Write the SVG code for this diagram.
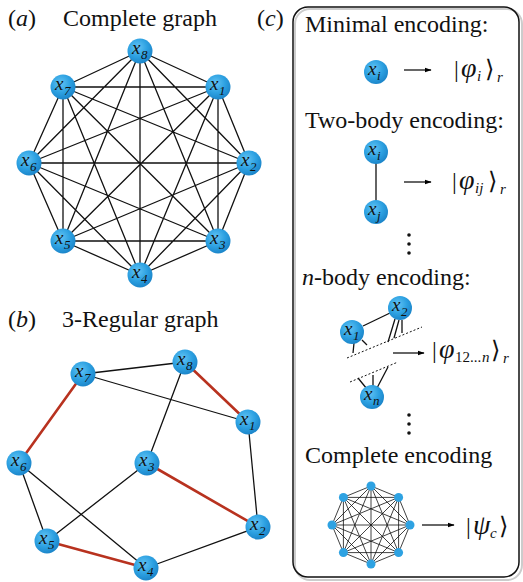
<svg xmlns="http://www.w3.org/2000/svg" width="523" height="582" viewBox="0 0 523 582">
<defs>
<radialGradient id="ball" cx="40%" cy="35%" r="65%">
<stop offset="0" stop-color="#62c4f4"/>
<stop offset="0.6" stop-color="#2ca0e1"/>
<stop offset="1" stop-color="#1c86ca"/>
</radialGradient>
<marker id="ah" viewBox="0 0 10 10" refX="9" refY="5" markerWidth="7" markerHeight="7" markerUnits="userSpaceOnUse" orient="auto">
<path d="M0,1.5 L10,5 L0,8.5 Z" fill="#000"/>
</marker>
</defs>
<style>
text{font-family:"Liberation Serif","Times New Roman",serif;fill:#111}
.t{font-size:24px}
.i{font-style:italic}
.nl{font-size:19px;font-style:italic}
.ns{font-size:13px;font-style:italic}
.k{font-size:24px}
.kp{font-size:28px;font-style:italic}
.ks{font-size:15px;font-style:italic}
.e{stroke:#111;stroke-width:1.3;fill:none}
.r{stroke:#b8321f;stroke-width:2.6;fill:none}
.n{fill:url(#ball)}
.sn{fill:#2ea2e2}
.arr{stroke:#000;stroke-width:1.2;marker-end:url(#ah)}
.d{stroke:#111;stroke-width:1;stroke-dasharray:2 2;fill:none}
</style>

<!-- titles -->
<text class="t" x="8" y="26">(<tspan class="i">a</tspan>)</text>
<text class="t" x="63" y="26">Complete graph</text>
<text class="t" x="257" y="26">(<tspan class="i">c</tspan>)</text>
<text class="t" x="8" y="327">(<tspan class="i">b</tspan>)</text>
<text class="t" x="62" y="327">3-Regular graph</text>

<!-- connectors -->
<g id="connectors">
<path class="e" d="M218 87L249 163 M218 87L218 241 M218 87L140 275 M218 87L63 241 M218 87L29 163 M218 87L63 87 M218 87L140 51
M249 163L218 241 M249 163L140 275 M249 163L63 241 M249 163L29 163 M249 163L63 87 M249 163L140 51
M218 241L140 275 M218 241L63 241 M218 241L29 163 M218 241L63 87 M218 241L140 51
M140 275L63 241 M140 275L29 163 M140 275L63 87 M140 275L140 51
M63 241L29 163 M63 241L63 87 M63 241L140 51
M29 163L63 87 M29 163L140 51
M63 87L140 51"/>
<path class="e" d="M83 374L185 362 M83 374L248 422 M185 362L147 463 M248 422L258 527 M147 463L47 541 M19 463L47 541 M19 463L146 568 M146 568L258 527"/>
<path class="r" d="M185 362L248 422 M83 374L19 463 M147 463L258 527 M47 541L146 568"/>
<line class="e" x1="376" y1="160" x2="376" y2="205"/>
<path class="e" d="M363 326L390 313 M354 343L353 353 M362 340L367 345 M395 319L388 342 M399 320L394 338 M402 320L402 333 M358 378L367 389 M373 375L373 387 M388 367L377 388"/>
<path class="d" d="M347 358L422 327 M350 382L398 362"/>
<path class="e" style="stroke-width:0.8" d="M371 486L398.6 497.4 M371 486L410 525 M371 486L398.6 552.6 M371 486L371 564 M371 486L343.4 552.6 M371 486L332 525 M371 486L343.4 497.4
M398.6 497.4L410 525 M398.6 497.4L398.6 552.6 M398.6 497.4L371 564 M398.6 497.4L343.4 552.6 M398.6 497.4L332 525 M398.6 497.4L343.4 497.4
M410 525L398.6 552.6 M410 525L371 564 M410 525L343.4 552.6 M410 525L332 525 M410 525L343.4 497.4
M398.6 552.6L371 564 M398.6 552.6L343.4 552.6 M398.6 552.6L332 525 M398.6 552.6L343.4 497.4
M371 564L343.4 552.6 M371 564L332 525 M371 564L343.4 497.4
M343.4 552.6L332 525 M343.4 552.6L343.4 497.4
M332 525L343.4 497.4"/>
<line class="arr" x1="404" y1="70" x2="431" y2="70"/>
<line class="arr" x1="404" y1="182" x2="431" y2="182"/>
<line class="arr" x1="393" y1="353" x2="424" y2="353"/>
<line class="arr" x1="422" y1="525" x2="454" y2="525"/>
</g>

<!-- panel a nodes -->
<g id="a-x1"><circle class="n" cx="218" cy="87" r="12.5"/><text class="nl" x="210" y="90">x</text><text class="ns" x="219" y="95">1</text></g>
<g id="a-x2"><circle class="n" cx="249" cy="163" r="12.5"/><text class="nl" x="241" y="166">x</text><text class="ns" x="250" y="171">2</text></g>
<g id="a-x3"><circle class="n" cx="218" cy="241" r="12.5"/><text class="nl" x="210" y="244">x</text><text class="ns" x="219" y="249">3</text></g>
<g id="a-x4"><circle class="n" cx="140" cy="275" r="12.5"/><text class="nl" x="132" y="278">x</text><text class="ns" x="141" y="283">4</text></g>
<g id="a-x5"><circle class="n" cx="63" cy="241" r="12.5"/><text class="nl" x="55" y="244">x</text><text class="ns" x="64" y="249">5</text></g>
<g id="a-x6"><circle class="n" cx="29" cy="163" r="12.5"/><text class="nl" x="21" y="166">x</text><text class="ns" x="30" y="171">6</text></g>
<g id="a-x7"><circle class="n" cx="63" cy="87" r="12.5"/><text class="nl" x="55" y="90">x</text><text class="ns" x="64" y="95">7</text></g>
<g id="a-x8"><circle class="n" cx="140" cy="51" r="12.5"/><text class="nl" x="132" y="54">x</text><text class="ns" x="141" y="59">8</text></g>

<!-- panel b nodes -->
<g id="b-x1"><circle class="n" cx="248" cy="422" r="12.5"/><text class="nl" x="240" y="425">x</text><text class="ns" x="249" y="430">1</text></g>
<g id="b-x2"><circle class="n" cx="258" cy="527" r="12.5"/><text class="nl" x="250" y="530">x</text><text class="ns" x="259" y="535">2</text></g>
<g id="b-x3"><circle class="n" cx="147" cy="463" r="12.5"/><text class="nl" x="139" y="466">x</text><text class="ns" x="148" y="471">3</text></g>
<g id="b-x4"><circle class="n" cx="146" cy="568" r="12.5"/><text class="nl" x="138" y="571">x</text><text class="ns" x="147" y="576">4</text></g>
<g id="b-x5"><circle class="n" cx="47" cy="541" r="12.5"/><text class="nl" x="39" y="544">x</text><text class="ns" x="48" y="549">5</text></g>
<g id="b-x6"><circle class="n" cx="19" cy="463" r="12.5"/><text class="nl" x="11" y="466">x</text><text class="ns" x="20" y="471">6</text></g>
<g id="b-x7"><circle class="n" cx="83" cy="374" r="12.5"/><text class="nl" x="75" y="377">x</text><text class="ns" x="84" y="382">7</text></g>
<g id="b-x8"><circle class="n" cx="185" cy="362" r="12.5"/><text class="nl" x="177" y="365">x</text><text class="ns" x="186" y="370">8</text></g>

<!-- panel c -->
<g id="panel-c">
<rect x="295" y="9" width="227" height="571" rx="15" fill="none" stroke="#ccc" stroke-width="2"/>
<rect x="293" y="7" width="226" height="570" rx="15" fill="none" stroke="#111" stroke-width="1.5"/>
<text class="t" x="305" y="32">Minimal encoding:</text>
<text class="t" x="305" y="128">Two-body encoding:</text>
<text class="t" x="302" y="285"><tspan class="i">n</tspan>-body encoding:</text>
<text class="t" x="305" y="463">Complete encoding</text>
</g>

<g id="c-xi"><circle class="n" cx="376" cy="72" r="12"/><text class="nl" x="368" y="75">x</text><text class="ns" x="377" y="80">i</text></g>
<g id="c-xi2"><circle class="n" cx="376" cy="152" r="12"/><text class="nl" x="368" y="155">x</text><text class="ns" x="377" y="160">i</text></g>
<g id="c-xj"><circle class="n" cx="376" cy="212" r="12"/><text class="nl" x="368" y="215">x</text><text class="ns" x="377" y="220">j</text></g>
<g id="c-x1"><circle class="n" cx="352" cy="332" r="12"/><text class="nl" x="344" y="335">x</text><text class="ns" x="353" y="340">1</text></g>
<g id="c-x2"><circle class="n" cx="400" cy="308" r="12"/><text class="nl" x="392" y="311">x</text><text class="ns" x="401" y="316">2</text></g>
<g id="c-xn"><circle class="n" cx="372" cy="397" r="12"/><text class="nl" x="364" y="400">x</text><text class="ns" x="373" y="405">n</text></g>

<g id="dots">
<circle cx="409" cy="235" r="1.8" fill="#111"/><circle cx="409" cy="244" r="1.8" fill="#111"/><circle cx="409" cy="253" r="1.8" fill="#111"/>
<circle cx="409" cy="415" r="1.8" fill="#111"/><circle cx="409" cy="424" r="1.8" fill="#111"/><circle cx="409" cy="433" r="1.8" fill="#111"/>
</g>

<g id="small-graph">
<circle class="sn" cx="371" cy="486" r="4.5"/><circle class="sn" cx="398.6" cy="497.4" r="4.5"/><circle class="sn" cx="410" cy="525" r="4.5"/><circle class="sn" cx="398.6" cy="552.6" r="4.5"/>
<circle class="sn" cx="371" cy="564" r="4.5"/><circle class="sn" cx="343.4" cy="552.6" r="4.5"/><circle class="sn" cx="332" cy="525" r="4.5"/><circle class="sn" cx="343.4" cy="497.4" r="4.5"/>
</g>

<g id="kets">
<text class="k"><tspan x="454" y="77">|</tspan><tspan class="kp" x="461" y="77">φ</tspan><tspan class="ks" x="477" y="81">i</tspan><tspan x="485" y="77">⟩</tspan><tspan class="ks" x="497" y="82">r</tspan></text>
<text class="k"><tspan x="452" y="189">|</tspan><tspan class="kp" x="459" y="189">φ</tspan><tspan class="ks" x="475" y="193">ij</tspan><tspan x="488" y="189">⟩</tspan><tspan class="ks" x="500" y="194">r</tspan></text>
<text class="k"><tspan x="432" y="358">|</tspan><tspan class="kp" x="439" y="358">φ</tspan><tspan style="font-size:15px" x="455" y="362">12...</tspan><tspan class="ks" x="482" y="362">n</tspan><tspan x="491" y="358">⟩</tspan><tspan class="ks" x="503" y="363">r</tspan></text>
<text class="k"><tspan x="466" y="534">|</tspan><tspan class="kp" x="473" y="534">ψ</tspan><tspan class="ks" x="490" y="538">c</tspan><tspan x="499" y="534">⟩</tspan></text>
</g>
</svg>
